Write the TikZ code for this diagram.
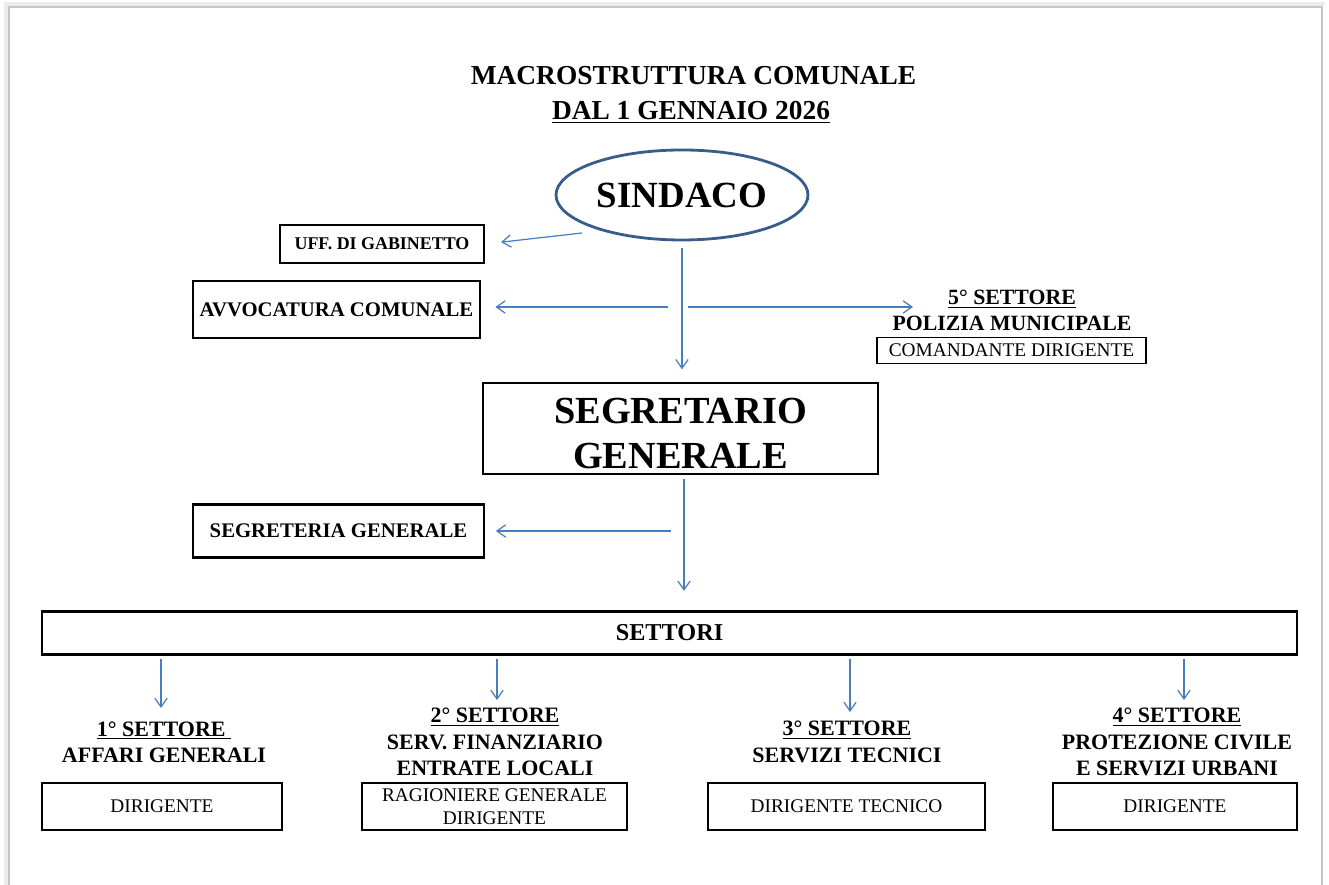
\documentclass[tikz,border=0pt]{standalone}
\usepackage{fontspec}
\setmainfont{Liberation Serif}
\usetikzlibrary{positioning,shapes.geometric,arrows.meta,calc}
\definecolor{linkblue}{HTML}{4A7EBB}
\definecolor{ovalblue}{HTML}{385D8A}

\begin{document}
\begin{tikzpicture}[
    arr/.style={-{Straight Barb[length=5pt,width=7pt]}, draw=linkblue, line width=0.7pt},
    unitbox/.style={draw, line width=1.5pt, inner sep=0pt, align=center},
    titletext/.style={font=\fontsize{15.6}{19}\selectfont\bfseries, inner sep=0pt},
    unittext/.style={font=\fontsize{11.8}{14}\selectfont\bfseries},
    headtext/.style={font=\fontsize{12.5}{15}\selectfont\bfseries, align=center, inner sep=0pt},
    dirtext/.style={font=\fontsize{11}{13}\selectfont}
]
\useasboundingbox (0,0) rectangle (26.58,17.70);

% page
\draw[gray!15, line width=2.5pt] (0.12,0) -- (0.12,17.62) -- (26.50,17.62);
\draw[gray!45, line width=0.8pt] (0.18,-0.1) -- (0.18,17.56) -- (26.44,17.56) -- (26.44,-0.1);

% title
\node[titletext, anchor=base] (title1) at (13.87,16.00) {MACROSTRUTTURA COMUNALE};
\node[titletext, anchor=base] (title2) at (13.82,15.30) {\underline{DAL 1 GENNAIO 2026}};

% top
\node[ellipse, draw=ovalblue, line width=1.6pt, minimum width=5.04cm, minimum height=1.8cm,
      inner sep=0pt, font=\fontsize{21}{25}\selectfont\bfseries] (sindaco) at (13.64,13.80) {SINDACO};

\node[unitbox, minimum width=4.08cm, minimum height=0.76cm,
      font=\fontsize{10.2}{12}\selectfont\bfseries] (gabinetto) at (7.64,12.82) {UFF. DI GABINETTO};
\node[unitbox, unittext, minimum width=5.74cm, minimum height=1.14cm] (avvocatura) at (6.73,11.51) {AVVOCATURA COMUNALE};

\node[headtext, font=\fontsize{12.4}{14.8}\selectfont\bfseries] (settore5) at (20.24,11.49)
    {\underline{5° SETTORE}\\POLIZIA MUNICIPALE};
\node[unitbox, line width=1pt, minimum width=5.38cm, minimum height=0.52cm, dirtext] (comandante) at (20.23,10.69)
    {COMANDANTE DIRIGENTE};

\node[unitbox, minimum width=7.9cm, minimum height=1.82cm,
      font=\fontsize{21.8}{25.5}\selectfont\bfseries] (segretario) at (13.61,9.13) {\rule{0pt}{20pt}SEGRETARIO\\GENERALE};

\node[unitbox, unittext, minimum width=5.82cm, minimum height=1.07cm] (segreteria) at (6.77,7.08) {SEGRETERIA GENERALE};

\node[unitbox, minimum width=25.1cm, minimum height=0.86cm,
      font=\fontsize{13.8}{16}\selectfont\bfseries] (settori) at (13.39,5.04) {SETTORI};

% sectors
\node[headtext] (set1) at (3.28,2.86) {\underline{1° SETTORE~}\\AFFARI GENERALI};
\node[headtext] (set2) at (9.90,2.86) {\underline{2° SETTORE}\\SERV. FINANZIARIO\\ENTRATE LOCALI};
\node[headtext] (set3) at (16.94,2.86) {\underline{3° SETTORE}\\SERVIZI TECNICI};
\node[headtext] (set4) at (23.54,2.86) {\underline{4° SETTORE}\\PROTEZIONE CIVILE\\E SERVIZI URBANI};

\node[unitbox, dirtext, minimum width=4.8cm, minimum height=0.94cm] (dir1) at (3.24,1.57) {DIRIGENTE};
\node[unitbox, dirtext, minimum width=5.3cm, minimum height=0.94cm] (dir2) at (9.89,1.57) {RAGIONIERE GENERALE\\DIRIGENTE};
\node[unitbox, dirtext, minimum width=5.54cm, minimum height=0.94cm] (dir3) at (16.93,1.57) {DIRIGENTE TECNICO};
\node[unitbox, dirtext, minimum width=4.88cm, minimum height=0.94cm] (dir4) at (23.50,1.57) {DIRIGENTE};

% connectors
\coordinate (gab) at (11.64,13.04);
\draw[arr, shorten >=9pt] (gab) -- (gabinetto.east);
\draw[arr, shorten <=4pt, shorten >=7pt] (sindaco.south) -- (sindaco.south |- segretario.north);
\coordinate (avl) at (13.36,11.56);
\draw[arr, shorten >=8pt] (avl) -- (avl -| avvocatura.east);
\coordinate (pml) at (13.76,11.56);
\coordinate (pmr) at (18.26,11.56);
\draw[arr] (pml) -- (pmr);
\coordinate (sgv) at (13.68,0);
\draw[arr, shorten <=2pt, shorten >=11pt] (segretario.south -| sgv) -- (settori.north -| sgv);
\coordinate (sgr) at (13.42,7.08);
\draw[arr, shorten >=6pt] (sgr) -- (sgr -| segreteria.east);
\foreach \i/\x/\tip in {1/3.22/3.54, 2/9.94/3.70, 3/17.00/3.46, 4/23.68/3.70} {
  \coordinate (tip\i) at (\x,\tip);
  \draw[arr, shorten <=2pt] (settori.south -| tip\i) -- (tip\i);
}

\end{tikzpicture}
\end{document}
